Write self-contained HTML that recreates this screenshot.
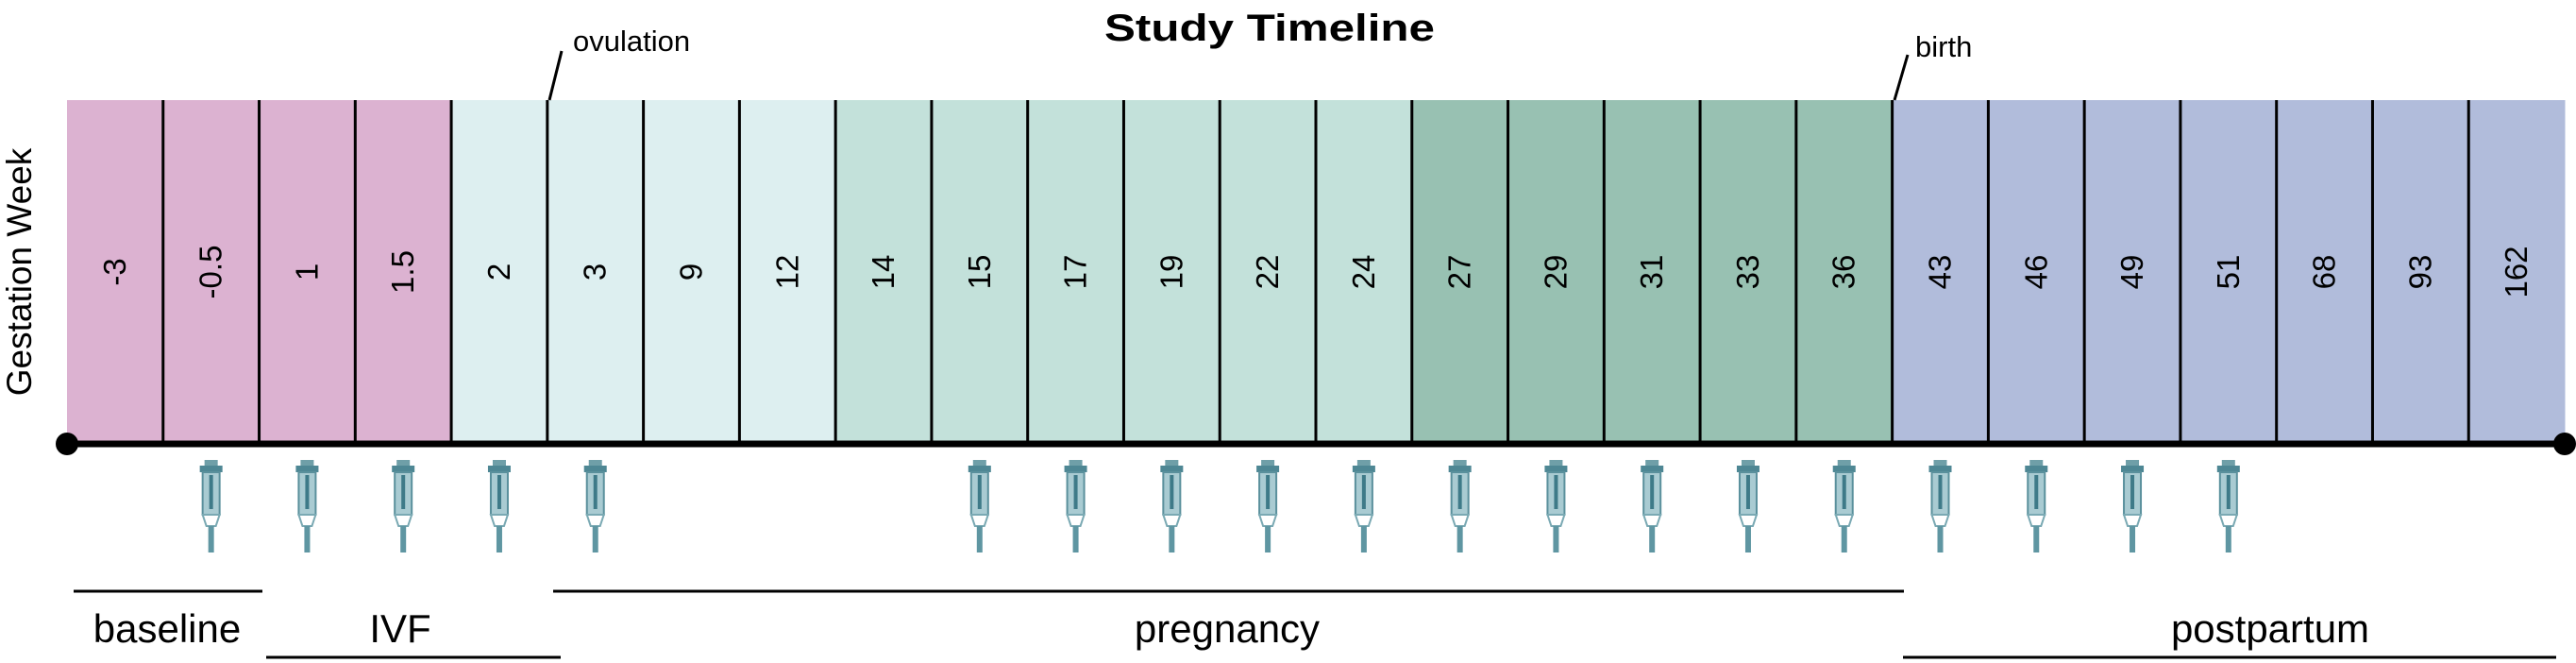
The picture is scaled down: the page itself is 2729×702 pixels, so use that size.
<!DOCTYPE html>
<html><head><meta charset="utf-8"><style>
html,body{margin:0;padding:0;background:#fff;}
svg{display:block;font-family:"Liberation Sans",Arial,sans-serif;}
</style></head><body>
<svg id="chart" width="2729" height="702" viewBox="0 0 2729 702" xmlns="http://www.w3.org/2000/svg">
<defs>
<g id="syr">
  <rect x="-7" y="0" width="14" height="6" fill="#6f9fa8"/>
  <rect x="-12" y="6" width="24" height="7" fill="#4e8794"/>
  <rect x="-9" y="13" width="18" height="45" fill="#a9cbd2" stroke="#5a909c" stroke-width="2"/>
  <rect x="-2" y="16" width="4" height="36" fill="#3e7a88"/>
  <polygon points="-9,58 9,58 5,70 -5,70" fill="#fff" stroke="#7aa9b3" stroke-width="2"/>
  <rect x="-3" y="70" width="6" height="28" fill="#5f96a2"/>
</g>
</defs>
<text x="1345" y="43" text-anchor="middle" font-weight="bold" font-size="40" textLength="350" lengthAdjust="spacingAndGlyphs">Study Timeline</text>
<text transform="translate(33,288) rotate(-90)" text-anchor="middle" font-size="37">Gestation Week</text>
<g id="cells"></g>
<g id="syringes"></g>
<line x1="71" y1="470" x2="2717" y2="470" stroke="#000" stroke-width="7"/>
<circle cx="71" cy="470" r="12" fill="#000"/>
<circle cx="2717" cy="470" r="12" fill="#000"/>
<line x1="582" y1="106" x2="595" y2="54" stroke="#000" stroke-width="3"/>
<text x="607" y="54" font-size="31">ovulation</text>
<line x1="2007" y1="106" x2="2021" y2="58" stroke="#000" stroke-width="3"/>
<text x="2029" y="60" font-size="31">birth</text>
<g font-size="42" text-anchor="middle">
<line x1="78" y1="626" x2="278" y2="626" stroke="#000" stroke-width="3"/>
<text x="177" y="680">baseline</text>
<line x1="282" y1="696" x2="594" y2="696" stroke="#000" stroke-width="3"/>
<text x="424" y="680">IVF</text>
<line x1="586" y1="626" x2="2017" y2="626" stroke="#000" stroke-width="3"/>
<text x="1300" y="680">pregnancy</text>
<line x1="2016" y1="696" x2="2708" y2="696" stroke="#000" stroke-width="3"/>
<text x="2405" y="680">postpartum</text>
</g>
</svg>
<script>
const weeks = ["-3","-0.5","1","1.5","2","3","9","12","14","15","17","19","22","24","27","29","31","33","36","43","46","49","51","68","93","162"];
const phaseIndex = [0,0,0,0,1,1,1,1,2,2,2,2,2,2,3,3,3,3,3,4,4,4,4,4,4,4];
const phaseColors = ["#dcb2d1","#ddeff0","#c3e1da","#98c1b2","#b1bcdb"];
const sampled = [0,1,1,1,1,1,0,0,0,1,1,1,1,1,1,1,1,1,1,1,1,1,1,0,0,0];

const NS="http://www.w3.org/2000/svg";
const xStart=71, xEnd=2717, yTop=106, yBot=470;
const cw=(xEnd-xStart)/weeks.length;
function xPos(i){return xStart+i*cw;}
const cellsG=document.getElementById('cells');
const syrG=document.getElementById('syringes');
weeks.forEach((w,i)=>{
  const r=document.createElementNS(NS,'rect');
  r.setAttribute('x',xPos(i));r.setAttribute('y',yTop);
  r.setAttribute('width',cw+0.5);r.setAttribute('height',yBot-yTop);
  r.setAttribute('fill',phaseColors[phaseIndex[i]]);
  
  
  cellsG.appendChild(r);
  if(i>0){
    const l=document.createElementNS(NS,'line');
    l.setAttribute('x1',xPos(i));l.setAttribute('x2',xPos(i));
    l.setAttribute('y1',yTop);l.setAttribute('y2',yBot);
    l.setAttribute('stroke','#000');l.setAttribute('stroke-width','3');
    
    
    cellsG.appendChild(l);
  }
  const t=document.createElementNS(NS,'text');
  const cx=xPos(i)+cw/2;
  t.setAttribute('transform','translate('+(cx+11)+',288) rotate(-90)');
  t.setAttribute('text-anchor','middle');t.setAttribute('font-size','33');
  t.textContent=w;
  
  
  cellsG.appendChild(t);
  if(sampled[i]){
    const u=document.createElementNS(NS,'use');
    u.setAttribute('href','#syr');
    u.setAttribute('transform','translate('+cx+',487)');
    
    
    syrG.appendChild(u);
  }
});
</script>
</body></html>
